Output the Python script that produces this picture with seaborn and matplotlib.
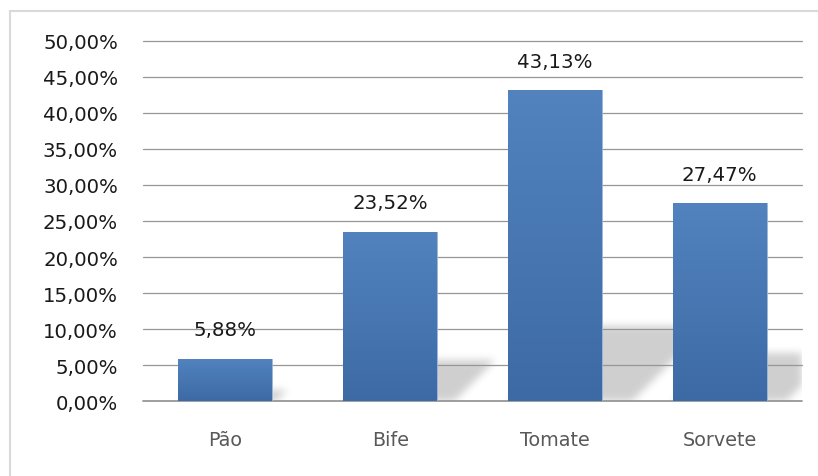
import numpy as np
import pandas as pd
import matplotlib
matplotlib.use("Agg")
import matplotlib.pyplot as plt
from matplotlib.patches import Rectangle
import seaborn as sns

categories = ["Pão", "Bife", "Tomate", "Sorvete"]
values = [5.88, 23.52, 43.13, 27.47]
value_labels = ["5,88%", "23,52%", "43,13%", "27,47%"]
y_ticks = [0, 5, 10, 15, 20, 25, 30, 35, 40, 45, 50]
y_tick_labels = ["0,00%", "5,00%", "10,00%", "15,00%", "20,00%", "25,00%",
                 "30,00%", "35,00%", "40,00%", "45,00%", "50,00%"]

sns.set_theme(style="white")
plt.rcParams["font.family"] = ["DejaVu Sans"]

W_PX, H_PX = 818, 477
fig = plt.figure(figsize=(W_PX / 100, H_PX / 100), dpi=100)
fig.patch.set_facecolor("white")

# outer chart frame (only top and left edges fall inside the canvas)
fig.patches.append(Rectangle((10 / W_PX, -0.1), 1.2, (H_PX - 12) / H_PX + 0.1,
                             transform=fig.transFigure, fill=False,
                             edgecolor="#d9d9d9", linewidth=1.5, zorder=0))

left, right, top, bottom = 143, 802, 42, 402
ax = fig.add_axes([left / W_PX, 1 - bottom / H_PX,
                   (right - left) / W_PX, (bottom - top) / H_PX])

df = pd.DataFrame({"categoria": categories, "valor": values})
bar_width = 0.57
sns.barplot(data=df, x="categoria", y="valor", color="#4a7ab5",
            width=bar_width, ax=ax, zorder=3, saturation=1)

ax.set_xlim(-0.5, len(categories) - 0.5)
ax.set_ylim(0, 50)
ax.set_xlabel("")
ax.set_ylabel("")
ax.set_yticks(y_ticks)
ax.set_yticklabels(y_tick_labels, fontsize=14.2, color="#1a1a1a")
ax.set_xticks(range(len(categories)))
ax.set_xticklabels(categories, fontsize=13.8, color="#595959")
ax.tick_params(axis="y", length=0, pad=18)
ax.tick_params(axis="x", length=0, pad=21)
for s in ax.spines.values():
    s.set_visible(False)

# horizontal gridlines, drawn over the floor shadow
for t in y_ticks:
    ax.axhline(t, color="#969696", linewidth=0.9 if t else 1.3, zorder=1.5,
               clip_on=False)

# soft perspective shadows cast by each bar onto the floor
ax_w, ax_h = right - left, bottom - top
px_per_x = ax_w / len(categories)
px_per_y = ax_h / 50.0
yy, xx = np.mgrid[0:ax_h, 0:ax_w]
height_from_base = (ax_h - 1 - yy).astype(float)
shade = np.zeros((ax_h, ax_w))
for i, v in enumerate(values):
    h = v * px_per_y
    bl = (i + 0.5 - bar_width / 2) * px_per_x
    br = (i + 0.5 + bar_width / 2) * px_per_x
    sh = 0.24 * h
    ext = 0.10 * h
    t = height_from_base
    inside = (t >= 0) & (t <= sh)
    inside &= xx >= bl + t
    inside &= xx <= br + ext + t
    shade = np.maximum(shade, inside.astype(float))

def blur(a, sigma):
    r = int(3 * sigma)
    k = np.exp(-0.5 * (np.arange(-r, r + 1) / sigma) ** 2)
    k /= k.sum()
    a = np.apply_along_axis(lambda m: np.convolve(m, k, mode="same"), 1, a)
    a = np.apply_along_axis(lambda m: np.convolve(m, k, mode="same"), 0, a)
    return a

shade = blur(shade, 4.0)
rgba = np.zeros((ax_h, ax_w, 4))
rgba[..., :3] = 0.0
rgba[..., 3] = shade * 0.19
ax.imshow(rgba, extent=(-0.5, len(categories) - 0.5, 0, 50), aspect="auto",
          origin="upper", zorder=1, interpolation="bilinear")

# vertical gradient fill on each bar
grad = np.linspace(0, 1, 256).reshape(-1, 1)
top_c = np.array([82, 131, 191]) / 255
bot_c = np.array([61, 106, 164]) / 255
grad_img = top_c * (1 - grad[..., None]) + bot_c * grad[..., None]
grad_img = grad_img.reshape(256, 1, 3)
for patch in ax.patches:
    x0, y0 = patch.get_x(), patch.get_y()
    w, h = patch.get_width(), patch.get_height()
    patch.set_edgecolor("#9db8da")
    patch.set_linewidth(0.6)
    im = ax.imshow(grad_img, extent=(x0, x0 + w, y0, y0 + h), aspect="auto",
                   origin="upper", zorder=3.5, interpolation="bilinear")
    im.set_clip_path(patch)

ax.set_xlim(-0.5, len(categories) - 0.5)
ax.set_ylim(0, 50)

# value labels above the bars
for i, (v, lab) in enumerate(zip(values, value_labels)):
    ax.annotate(lab, xy=(i, v), xytext=(0, 14), textcoords="offset points",
                ha="center", va="bottom", fontsize=14.2, color="#1a1a1a",
                zorder=5)

fig.savefig("out.png", dpi=100, facecolor="white")
